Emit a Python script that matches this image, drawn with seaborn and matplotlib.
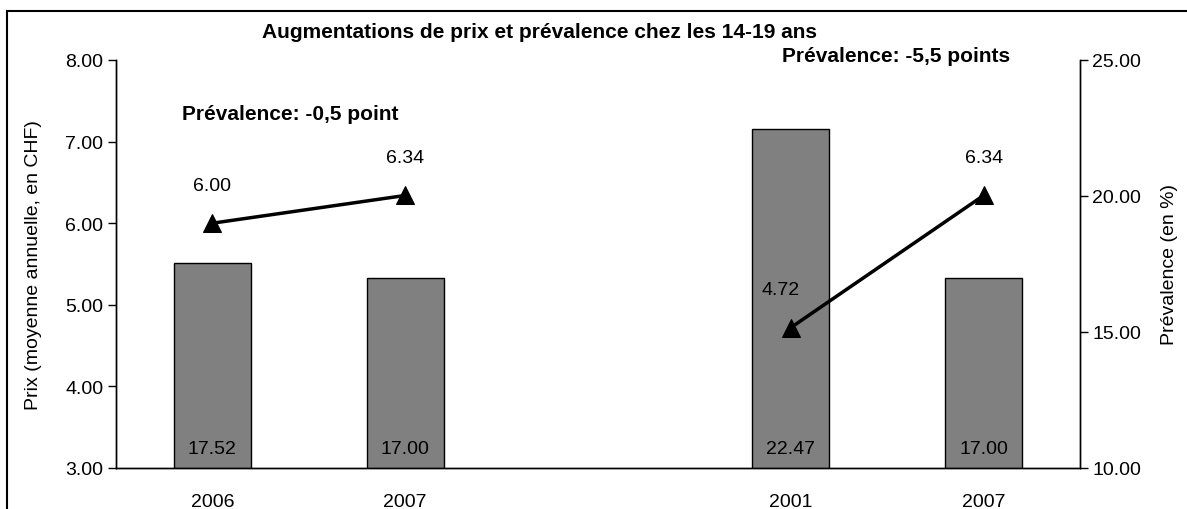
import matplotlib
matplotlib.use("Agg")
import matplotlib.pyplot as plt
from matplotlib.patches import Rectangle
import pandas as pd
import seaborn as sns

# donnees
annees = ["2006", "2007", "", "2001", "2007"]
cles = ["a2006", "a2007", "vide", "b2001", "b2007"]
prevalence = [17.52, 17.00, None, 22.47, 17.00]
prix = [6.00, 6.34, None, 4.72, 6.34]
segments = [(0, 1), (3, 4)]

sns.set_style("white")
plt.rcParams['font.family'] = ['Liberation Sans', 'DejaVu Sans']
plt.rcParams['text.color'] = 'black'
plt.rcParams['axes.labelcolor'] = 'black'
plt.rcParams['xtick.color'] = 'black'
plt.rcParams['ytick.color'] = 'black'

W, H = 1187, 510
fig = plt.figure(figsize=(W / 100, H / 100), dpi=100)
ax = fig.add_axes([116 / W, 1 - 469 / H, (1080 - 116) / W, (469 - 61) / H])
ax2 = ax.twinx()

df = pd.DataFrame({"cle": cles, "prev": prevalence, "prix": prix})
df_bar = df.dropna()

# barres: prevalence (axe de droite)
sns.barplot(data=df_bar, x="cle", y="prev", order=cles, ax=ax2, color="#808080",
            saturation=1, width=0.4, edgecolor="black", linewidth=1)
for i, c in enumerate(cles):
    v = df.loc[i, "prev"]
    if pd.notna(v):
        ax2.text(i, 10.7, f"{v:.2f}", ha="center", va="center", fontsize=14)

# lignes: prix (axe de gauche)
for a, b in segments:
    seg = pd.DataFrame({"x": [a, b], "y": [prix[a], prix[b]]})
    sns.lineplot(data=seg, x="x", y="y", ax=ax, color="black", linewidth=2.5,
                 marker="^", markersize=13, markeredgecolor="black")
    for i in (a, b):
        dx = -10 if prix[i] < 5 else 0
        ax.annotate(f"{prix[i]:.2f}", (i, prix[i]), xytext=(dx, 38),
                    textcoords="offset pixels", ha="center", va="center", fontsize=14)

ax.set_zorder(ax2.get_zorder() + 1)
ax.patch.set_visible(False)

ax.set_xlim(-0.5, 4.5)
ax2.set_xlim(-0.5, 4.5)
ax.set_ylim(3, 8)
ax2.set_ylim(10, 25)
ax.set_yticks([3, 4, 5, 6, 7, 8])
ax.set_yticklabels([f"{v:.2f}" for v in [3, 4, 5, 6, 7, 8]])
ax2.set_yticks([10, 15, 20, 25])
ax2.set_yticklabels([f"{v:.2f}" for v in [10, 15, 20, 25]])

# graduations x entre categories, etiquettes au centre
ax.set_xticks([0.5, 1.5, 2.5, 3.5])
ax.set_xticklabels([])
ax.set_xticks(range(len(annees)), minor=True)
ax.set_xticklabels(annees, minor=True)
ax.tick_params(axis="x", which="major", direction="inout", length=12, width=1, color="black")
ax.tick_params(axis="x", which="minor", length=0, pad=18, labelsize=14)
ax2.tick_params(axis="x", bottom=False, labelbottom=False)
ax.tick_params(axis="y", direction="out", length=6, width=1, color="black", labelsize=14, pad=3, left=True)
ax2.tick_params(axis="y", direction="out", length=6, width=1, color="black", labelsize=14, pad=3, right=True)

ax.set_xlabel("")
ax.set_ylabel("Prix (moyenne annuelle, en CHF)", fontsize=14, labelpad=17)
ax2.set_xlabel("")
ax2.set_ylabel("Prévalence (en %)", fontsize=14, labelpad=14)

for a in (ax, ax2):
    a.spines["top"].set_visible(False)
    for s in ("left", "right", "bottom"):
        a.spines[s].set_color("black")
        a.spines[s].set_linewidth(1)

fig.text(540 / W, 1 - 33 / H, "Augmentations de prix et prévalence chez les 14-19 ans",
         ha="center", va="center", fontsize=15, fontweight="bold")
fig.text(290 / W, 1 - 115 / H, "Prévalence: -0,5 point", ha="center", va="center",
         fontsize=15, fontweight="bold")
fig.text(896 / W, 1 - 57 / H, "Prévalence: -5,5 points", ha="center", va="center",
         fontsize=15, fontweight="bold")

fig.add_artist(Rectangle((7 / W, -0.1), 1.1, 1 - 12 / H + 0.1, transform=fig.transFigure,
                         fill=False, edgecolor="black", linewidth=1.5))

fig.savefig("out.png", dpi=100)
